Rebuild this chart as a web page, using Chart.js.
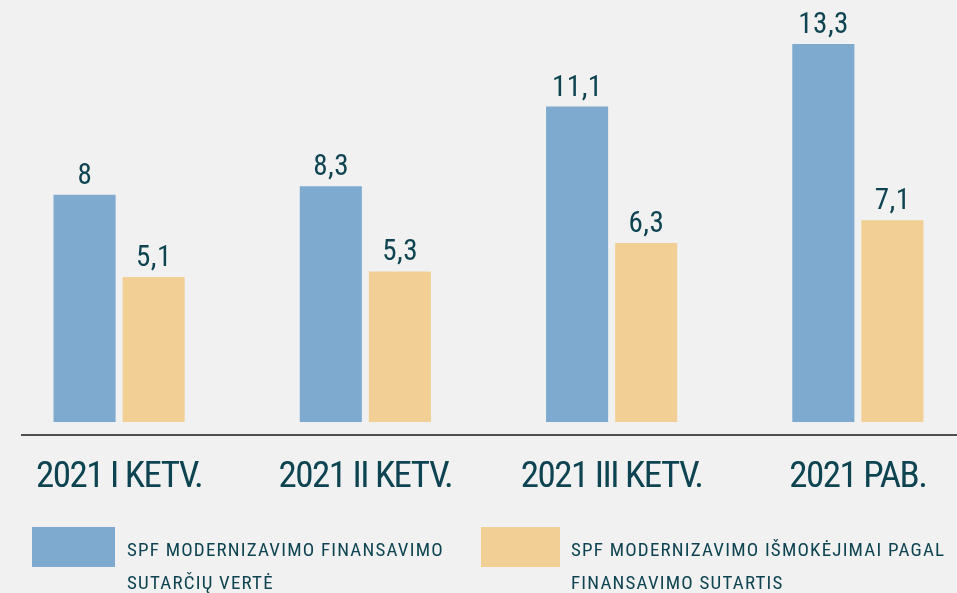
<!DOCTYPE html>
<html>
<head>
<meta charset="utf-8">
<script src="https://cdn.jsdelivr.net/npm/chart.js@4.4.1/dist/chart.umd.min.js"></script>
<style>
  html, body { margin: 0; padding: 0; background: #f0f1f0; width: 957px; height: 593px; overflow: hidden; }
  #wrap { position: absolute; left: -7px; top: 0; width: 988px; height: 593px; }
  .leg { position: absolute; white-space: nowrap; font-family: 'Roboto Condensed', 'DejaVu Sans Condensed', sans-serif; font-size: 19px; line-height: 33px; letter-spacing: 1.2px; color: #0e4452; }
  .box { position: absolute; }
</style>
</head>
<body>
<div id="wrap"><canvas id="c" width="988" height="593"></canvas></div>
<div class="box" style="left:32px;top:527px;width:83px;height:40px;background:#7faacf"></div>
<div class="leg" id="l1" style="left:127px;top:533px;">SPF MODERNIZAVIMO FINANSAVIMO<br>SUTARČIŲ VERTĖ</div>
<div class="box" style="left:481px;top:527px;width:79px;height:40px;background:#f2cf94"></div>
<div class="leg" id="l2" style="left:571px;top:533px;">SPF MODERNIZAVIMO IŠMOKĖJIMAI PAGAL<br>FINANSAVIMO SUTARTIS</div>
<script>
const categories = ["2021 I KETV.", "2021 II KETV.", "2021 III KETV.", "2021 PAB."];
const seriesNames = ["SPF MODERNIZAVIMO FINANSAVIMO SUTARČIŲ VERTĖ", "SPF MODERNIZAVIMO IŠMOKĖJIMAI PAGAL FINANSAVIMO SUTARTIS"];
const contractValue = [8, 8.3, 11.1, 13.3];
const payments = [5.1, 5.3, 6.3, 7.1];

const textColor = '#0e4452';
const condensed = "'Roboto Condensed', 'DejaVu Sans Condensed', sans-serif";

const tightTicks = {
  id: 'tightTicks',
  beforeDraw(chart) { chart.ctx.letterSpacing = '-1.5px'; },
  afterDraw(chart) { chart.ctx.letterSpacing = '0px'; }
};

const valueLabels = {
  id: 'valueLabels',
  afterDatasetsDraw(chart) {
    const ctx = chart.ctx;
    ctx.save();
    ctx.font = '29px ' + condensed;
    ctx.fillStyle = textColor;
    ctx.textAlign = 'center';
    ctx.textBaseline = 'alphabetic';
    const sp = 0.5;
    ctx.letterSpacing = sp + 'px';
    chart.data.datasets.forEach((ds, i) => {
      chart.getDatasetMeta(i).data.forEach((bar, j) => {
        const txt = String(ds.data[j]).replace('.', ',');
        ctx.fillText(txt, bar.x + sp / 2, bar.y - 11);
      });
    });
    ctx.restore();
  }
};

const axisLine = {
  id: 'axisLine',
  afterDraw(chart) {
    const ctx = chart.ctx;
    ctx.save();
    ctx.strokeStyle = '#4d4f50';
    ctx.lineWidth = 2;
    ctx.beginPath();
    ctx.moveTo(28, 435);
    ctx.lineTo(chart.width, 435);
    ctx.stroke();
    ctx.restore();
  }
};

new Chart(document.getElementById('c'), {
  type: 'bar',
  data: {
    labels: categories,
    datasets: [
      { label: seriesNames[0], data: contractValue, backgroundColor: '#7faacf' },
      { label: seriesNames[1], data: payments, backgroundColor: '#f2cf94' }
    ]
  },
  plugins: [tightTicks, valueLabels, axisLine],
  options: {
    responsive: false, animation: false,
    layout: { padding: 0 },
    plugins: { legend: { display: false }, tooltip: { enabled: false } },
    scales: {
      y: { display: false, min: 0, max: 14.85 },
      x: {
        grid: { display: false, drawTicks: false }, border: { display: false },
        ticks: { color: textColor, font: { family: condensed, size: 37 }, padding: 34, maxRotation: 0, minRotation: 0, autoSkip: false },
        afterFit: s => { s.height = 171; }
      }
    },
    datasets: { bar: { categoryPercentage: 0.561, barPercentage: 0.899 } }
  }
});
</script>
</body>
</html>
